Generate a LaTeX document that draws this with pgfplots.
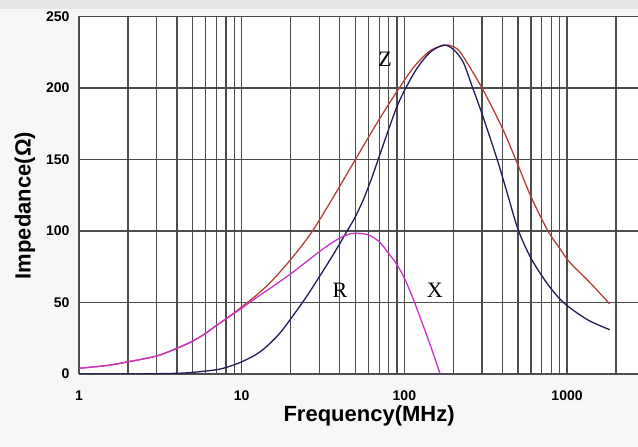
\documentclass[border=0pt]{standalone}
\usepackage{fontspec}
\setmainfont{Liberation Serif}
\setsansfont{Liberation Sans}
\usepackage{pgfplots}
\pgfplotsset{compat=1.18}
\definecolor{zred}{HTML}{B9403A}
\definecolor{xnavy}{HTML}{1E1E5A}
\definecolor{rmag}{HTML}{CC33CC}
\definecolor{bgpage}{HTML}{F7F7F7}
\definecolor{bgtop}{HTML}{E6E6E6}
\begin{document}
\begin{tikzpicture}
\fill[bgpage] (-79pt,-73pt) rectangle (559pt,374pt);
\useasboundingbox (-79pt,-73pt) rectangle (559pt,374pt);
\fill[bgtop] (-79pt,365pt) rectangle (559pt,374pt);
\begin{axis}[
    at={(0,0)}, anchor=south west,
    scale only axis,
    width=559pt, height=357.5pt,
    xmode=log,
    xmin=1, xmax=2729,
    ymin=0, ymax=250,
    xtick={1,10,100,1000},
    xticklabels={1,10,100,1000},
    minor xtick={2,3,4,5,6,7,8,9,20,30,40,50,60,70,80,90,200,300,400,500,600,700,800,900,2000},
    ytick={0,50,100,150,200,250},
    yticklabels={0,50,100,150,200,250},
    grid=both,
    major grid style={black!70, line width=1.2pt},
    minor grid style={black!70, line width=1.2pt},
    axis line style={draw=none},
    tick style={draw=none},
    axis background/.style={fill=white},
    ticklabel style={font=\sffamily\bfseries\fontsize{14}{16}\selectfont},
    xticklabel style={yshift=-13pt},
    yticklabel style={xshift=-6pt},
    xlabel={Frequency(MHz)},
    ylabel={Impedance(Ω)},
    label style={font=\sffamily\bfseries\fontsize{22}{24}\selectfont},
    xlabel style={at={(axis description cs:0.519,-0.134)}, anchor=base},
    ylabel style={at={(axis description cs:-0.0966,0.471)}, anchor=center},
]

% Z
\addplot[zred, line width=1.3pt, smooth] coordinates {
(1,4) (1.5,6) (2,8.5) (3,12.6) (4,18) (5,23) (6,28.4) (7,34) (8,38.5)
(9,42.8) (10,47) (12,54) (15,64) (20,80) (26.5,98) (35,120) (50,150)
(70,178) (93,200) (115,215) (140,225) (160,228.5) (186,230) (210,227.5)
(230,222) (300,200) (400,172) (500,146) (600,124) (763,100) (900,88)
(1040,78) (1380,64) (1830,49)
};

% X
\addplot[xnavy, line width=1.3pt, smooth] coordinates {
(1,0) (2,0) (3,0.2) (4.6,0.8) (7,3) (8.5,5.5) (10,8.5) (12,13) (14,18.5)
(17,28) (20,38.5) (25,54) (30,68) (35,80) (40,91) (45,101) (50,110)
(56,122) (63,137) (69,150) (80,171) (90,187) (102,200) (120,214)
(144,225) (174,230) (200,227) (230,218) (263,200) (300,182) (372,150)
(430,126) (500,101) (600,81) (754,63.4) (950,50) (1333,38) (1830,31)
};

% R
\addplot[rmag, line width=1.3pt, smooth] coordinates {
(1,4) (1.5,6) (2,8.5) (3,12.6) (4,18) (5,23) (6,28.4) (7,34) (8,38.5)
(9,42.5) (10,46) (12,52.5) (15,60) (20,70) (25,78.5) (30,85.5) (35,91)
(40,95) (45,97.5) (50,98.5) (60,97.3) (70,92.5) (80,84.4) (90,76.5)
(100,67) (112,54) (125,39.5) (144,20.5) (166,0)
};

\node[font=\fontsize{22}{24}\selectfont] at (axis cs:76,220) {Z};
\node[font=\fontsize{22}{24}\selectfont] at (axis cs:40.2,58.7) {R};
\node[font=\fontsize{22}{24}\selectfont] at (axis cs:154,58.7) {X};
\end{axis}
\end{tikzpicture}
\end{document}
